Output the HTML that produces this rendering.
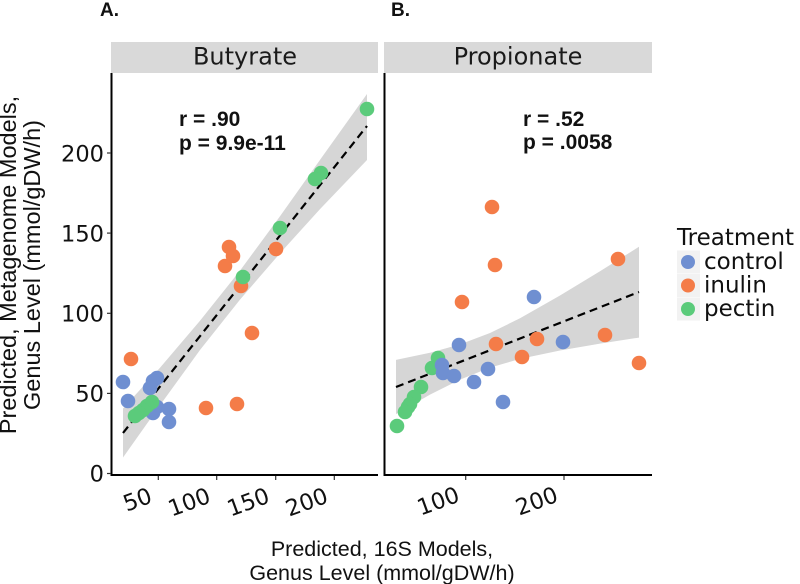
<!DOCTYPE html>
<html>
<head>
<meta charset="utf-8">
<style>
  html, body { margin: 0; padding: 0; background: #ffffff; }
  svg { display: block; }
  .tick { font-family: "DejaVu Sans", "Liberation Sans", sans-serif; font-size: 22.5px; fill: #111; }
  .strip { font-family: "DejaVu Sans", "Liberation Sans", sans-serif; font-size: 24px; fill: #1a1a1a; }
  .ttl { font-family: "Liberation Sans", sans-serif; font-size: 21.5px; fill: #111; }
  .ttly { font-family: "Liberation Sans", sans-serif; font-size: 23.5px; fill: #111; }
  .ann { font-family: "Liberation Sans", sans-serif; font-size: 21px; font-weight: bold; fill: #111; }
  .lab { font-family: "Liberation Sans", sans-serif; font-size: 19px; font-weight: bold; fill: #111; }
  .leg { font-family: "DejaVu Sans", "Liberation Sans", sans-serif; font-size: 23px; fill: #111; }
</style>
</head>
<body>
<svg width="800" height="584" viewBox="0 0 800 584" xmlns="http://www.w3.org/2000/svg">
  <rect x="0" y="0" width="800" height="584" fill="#ffffff"/>

  <!-- Panel labels -->
  <text class="lab" x="100" y="16">A.</text>
  <text class="lab" x="391" y="16">B.</text>

  <!-- Strips -->
  <rect x="111" y="42" width="267" height="31" fill="#d9d9d9"/>
  <rect x="384" y="42" width="268" height="31" fill="#d9d9d9"/>
  <text class="strip" x="245" y="64.5" text-anchor="middle">Butyrate</text>
  <text class="strip" x="518" y="64.5" text-anchor="middle">Propionate</text>

  <!-- Panel A confidence band -->
  <path d="M123,408.5 L160,367.7 L200,320.8 L240,270.6 L280,216.3 L320,159.9 L367,94.0 L367,160.0 L320,209.1 L280,253.3 L240,299.6 L200,350.0 L160,405.3 L123,457.5 Z" fill="#d6d6d6"/>
  <!-- Panel B confidence band -->
  <path d="M396,359.9 L430,352.8 L460,344.4 L490,333.0 L520,318.3 L560,295.5 L600,271.2 L639,246.8 L639,337.6 L600,343.6 L560,350.5 L520,358.9 L490,367.6 L460,379.6 L430,394.6 L396,414.1 Z" fill="#d6d6d6"/>

  <!-- Regression lines -->
  <line x1="123" y1="433" x2="367" y2="126" stroke="#000" stroke-width="2.2" stroke-dasharray="8,5"/>
  <line x1="396" y1="387" x2="639" y2="292" stroke="#000" stroke-width="2.2" stroke-dasharray="8,5"/>

  <!-- Panel A points -->
  <g fill="#6f8fd1">
    <circle cx="123" cy="382" r="7.3"/>
    <circle cx="157" cy="378" r="7.3"/>
    <circle cx="153" cy="381" r="7.3"/>
    <circle cx="150" cy="388" r="7.3"/>
    <circle cx="128" cy="401" r="7.3"/>
    <circle cx="157" cy="407" r="7.3"/>
    <circle cx="153" cy="413" r="7.3"/>
    <circle cx="169" cy="409" r="7.3"/>
    <circle cx="169" cy="422" r="7.3"/>
  </g>
  <g fill="#f47c48">
    <circle cx="276" cy="249" r="7.3"/>
    <circle cx="229" cy="247" r="7.3"/>
    <circle cx="233" cy="256" r="7.3"/>
    <circle cx="225" cy="266" r="7.3"/>
    <circle cx="241" cy="286" r="7.3"/>
    <circle cx="252" cy="333" r="7.3"/>
    <circle cx="131" cy="359" r="7.3"/>
    <circle cx="206" cy="408" r="7.3"/>
    <circle cx="237" cy="404" r="7.3"/>
  </g>
  <g fill="#5bcb7b">
    <circle cx="367" cy="109" r="7.3"/>
    <circle cx="321" cy="173" r="7.3"/>
    <circle cx="315" cy="179" r="7.3"/>
    <circle cx="280" cy="228" r="7.3"/>
    <circle cx="243" cy="277" r="7.3"/>
    <circle cx="152" cy="402" r="7.3"/>
    <circle cx="147" cy="406" r="7.3"/>
    <circle cx="143" cy="410" r="7.3"/>
    <circle cx="139" cy="413" r="7.3"/>
    <circle cx="135" cy="416" r="7.3"/>
  </g>

  <!-- Panel B points -->
  <g fill="#f47c48">
    <circle cx="492" cy="207" r="7.3"/>
    <circle cx="495" cy="265" r="7.3"/>
    <circle cx="618" cy="259" r="7.3"/>
    <circle cx="462" cy="302" r="7.3"/>
    <circle cx="496" cy="344" r="7.3"/>
    <circle cx="537" cy="339" r="7.3"/>
    <circle cx="605" cy="335" r="7.3"/>
    <circle cx="522" cy="357" r="7.3"/>
    <circle cx="639" cy="363" r="7.3"/>
  </g>
  <g fill="#5bcb7b">
    <circle cx="438" cy="358" r="7.3"/>
    <circle cx="432" cy="368" r="7.3"/>
    <circle cx="421" cy="387" r="7.3"/>
    <circle cx="414" cy="397" r="7.3"/>
    <circle cx="410" cy="404" r="7.3"/>
    <circle cx="408" cy="407" r="7.3"/>
    <circle cx="405" cy="412" r="7.3"/>
    <circle cx="397" cy="426" r="7.3"/>
  </g>
  <g fill="#6f8fd1">
    <circle cx="534" cy="297" r="7.3"/>
    <circle cx="459" cy="345" r="7.3"/>
    <circle cx="563" cy="342" r="7.3"/>
    <circle cx="442" cy="365" r="7.3"/>
    <circle cx="443" cy="373" r="7.3"/>
    <circle cx="454" cy="376" r="7.3"/>
    <circle cx="488" cy="369" r="7.3"/>
    <circle cx="474" cy="382" r="7.3"/>
    <circle cx="503" cy="402" r="7.3"/>
  </g>

  <!-- Annotations -->
  <text class="ann" x="179" y="126">r = .90</text>
  <text class="ann" x="179" y="150">p = 9.9e-11</text>
  <text class="ann" x="523" y="126">r = .52</text>
  <text class="ann" x="523" y="149">p = .0058</text>

  <!-- Axes -->
  <path d="M111.5,73 V475 H378" fill="none" stroke="#000" stroke-width="2"/>
  <path d="M384.5,73 V475 H652" fill="none" stroke="#000" stroke-width="2"/>

  <!-- Y ticks -->
  <g stroke="#333" stroke-width="1.2">
    <line x1="107" y1="473.5" x2="111" y2="473.5"/>
    <line x1="107" y1="393.4" x2="111" y2="393.4"/>
    <line x1="107" y1="313.3" x2="111" y2="313.3"/>
    <line x1="107" y1="233.1" x2="111" y2="233.1"/>
    <line x1="107" y1="153" x2="111" y2="153"/>
  </g>
  <g class="tick" text-anchor="end">
    <text x="104" y="481.5">0</text>
    <text x="104" y="401.5">50</text>
    <text x="104" y="321.5">100</text>
    <text x="104" y="241.5">150</text>
    <text x="104" y="161.5">200</text>
  </g>

  <!-- X ticks -->
  <g stroke="#333" stroke-width="1.2">
    <line x1="158.3" y1="476" x2="158.3" y2="480"/>
    <line x1="216.7" y1="476" x2="216.7" y2="480"/>
    <line x1="275.7" y1="476" x2="275.7" y2="480"/>
    <line x1="334.3" y1="476" x2="334.3" y2="480"/>
    <line x1="465.7" y1="476" x2="465.7" y2="480"/>
    <line x1="564" y1="476" x2="564" y2="480"/>
  </g>
  <g class="tick" text-anchor="end">
    <text transform="translate(153.5,502) rotate(-20)">50</text>
    <text transform="translate(212,502) rotate(-20)">100</text>
    <text transform="translate(271,502) rotate(-20)">150</text>
    <text transform="translate(329.5,502) rotate(-20)">200</text>
    <text transform="translate(461,501) rotate(-20)">100</text>
    <text transform="translate(559.5,501) rotate(-20)">200</text>
  </g>

  <!-- Axis titles -->
  <text class="ttl" x="382" y="556" text-anchor="middle">Predicted, 16S Models,</text>
  <text class="ttl" x="382" y="580" text-anchor="middle">Genus Level (mmol/gDW/h)</text>
  <text class="ttly" transform="translate(16,265) rotate(-90)" text-anchor="middle">Predicted, Metagenome Models,</text>
  <text class="ttly" transform="translate(40,265) rotate(-90)" text-anchor="middle">Genus Level (mmol/gDW/h)</text>

  <!-- Legend -->
  <text class="leg" x="677" y="245">Treatment</text>
  <rect x="677" y="250.5" width="23" height="23" fill="#f2f2f2"/>
  <rect x="677" y="274" width="23" height="23" fill="#f2f2f2"/>
  <rect x="677" y="297.5" width="23" height="23" fill="#f2f2f2"/>
  <circle cx="688" cy="262" r="7" fill="#6f8fd1"/>
  <circle cx="688" cy="285.5" r="7" fill="#f47c48"/>
  <circle cx="688" cy="309" r="7" fill="#5bcb7b"/>
  <text class="leg" x="704" y="269">control</text>
  <text class="leg" x="704" y="292.5">inulin</text>
  <text class="leg" x="704" y="316">pectin</text>
</svg>
</body>
</html>
